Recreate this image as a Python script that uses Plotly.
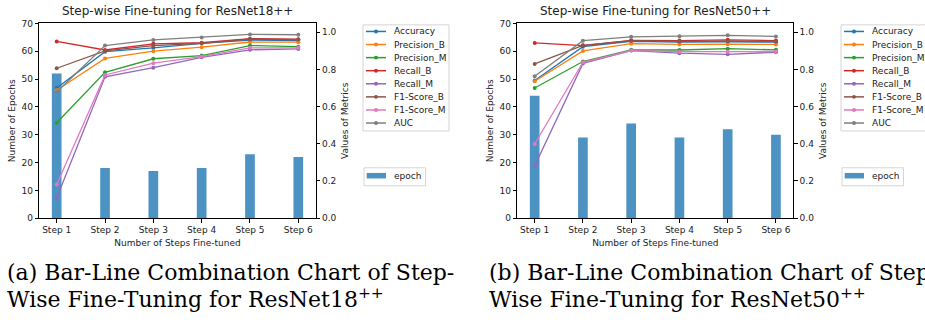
import plotly.graph_objects as go

steps = ["Step 1", "Step 2", "Step 3", "Step 4", "Step 5", "Step 6"]
metric_names = ["Accuracy", "Precision_B", "Precision_M", "Recall_B", "Recall_M",
                "F1-Score_B", "F1-Score_M", "AUC"]
colors = ["#1f77b4", "#ff7f0e", "#2ca02c", "#d62728", "#9467bd", "#8c564b", "#e377c2", "#7f7f7f"]

# ResNet18++
epochs_18 = [52, 18, 17, 18, 23, 22]
accuracy_18 = [0.700, 0.895, 0.916, 0.940, 0.957, 0.955]
precision_b_18 = [0.688, 0.859, 0.898, 0.919, 0.947, 0.946]
precision_m_18 = [0.513, 0.784, 0.857, 0.874, 0.928, 0.922]
recall_b_18 = [0.950, 0.904, 0.937, 0.943, 0.965, 0.962]
recall_m_18 = [0.109, 0.760, 0.809, 0.865, 0.905, 0.910]
f1_b_18 = [0.806, 0.899, 0.928, 0.940, 0.962, 0.960]
f1_m_18 = [0.181, 0.770, 0.833, 0.869, 0.916, 0.916]
auc_18 = [0.678, 0.928, 0.958, 0.971, 0.988, 0.986]

# ResNet50++
epochs_50 = [44, 29, 34, 29, 32, 30]
accuracy_50 = [0.740, 0.922, 0.951, 0.946, 0.948, 0.946]
precision_b_50 = [0.736, 0.899, 0.938, 0.934, 0.935, 0.934]
precision_m_50 = [0.700, 0.842, 0.905, 0.904, 0.911, 0.905]
recall_b_50 = [0.942, 0.928, 0.956, 0.955, 0.959, 0.955]
recall_m_50 = [0.281, 0.832, 0.901, 0.887, 0.881, 0.892]
f1_b_50 = [0.829, 0.929, 0.954, 0.950, 0.951, 0.950]
f1_m_50 = [0.399, 0.838, 0.901, 0.895, 0.895, 0.896]
auc_50 = [0.763, 0.954, 0.975, 0.978, 0.983, 0.977]

metrics_18 = [accuracy_18, precision_b_18, precision_m_18, recall_b_18, recall_m_18, f1_b_18, f1_m_18, auc_18]
metrics_50 = [accuracy_50, precision_b_50, precision_m_50, recall_b_50, recall_m_50, f1_b_50, f1_m_50, auc_50]

W, H = 925, 323
FONT = "DejaVu Sans"
TXT = "#222"
BAR_COLOR = "rgba(31,119,180,0.8)"
fig = go.Figure()
xpos = list(range(len(steps)))


def px_x(v):
    return v / W


def px_y(v):
    return (H - v) / H


panels = [
    dict(epochs=epochs_18, metrics=metrics_18, xa="x", ya="y", ya2="y2", dx=0),
    dict(epochs=epochs_50, metrics=metrics_50, xa="x2", ya="y3", ya2="y4", dx=478),
]
for p in panels:
    fig.add_trace(go.Bar(x=xpos, y=p["epochs"], width=0.2, name="epoch",
                         marker=dict(color=BAR_COLOR, line=dict(width=0)),
                         xaxis=p["xa"], yaxis=p["ya"], showlegend=False))
    for name, vals, c in zip(metric_names, p["metrics"], colors):
        fig.add_trace(go.Scatter(x=xpos, y=vals, name=name, mode="lines+markers",
                                 line=dict(color=c, width=1.3), marker=dict(color=c, size=4),
                                 xaxis=p["xa"], yaxis=p["ya2"], showlegend=False))

ydom = [px_y(220), px_y(19)]
tickfont = dict(family=FONT, size=9, color=TXT)
labfont = dict(family=FONT, size=9, color=TXT)
common_x = dict(range=[-0.36, 5.36], tickvals=xpos, ticktext=steps, showline=True, mirror=True,
                linecolor="black", linewidth=1, ticks="outside", ticklen=3.5, tickcolor="black",
                showgrid=False, zeroline=False, tickfont=tickfont,
                title=dict(text="Number of Steps Fine-tuned", font=labfont, standoff=5))
common_yl = dict(range=[0, 70], tickvals=[0, 10, 20, 30, 40, 50, 60, 70], showline=True, linecolor="black",
                 linewidth=1, ticks="outside", ticklen=3.5, tickcolor="black", showgrid=False, zeroline=False,
                 tickfont=tickfont, domain=ydom,
                 title=dict(text="Number of Epochs", font=labfont, standoff=4))
common_yr = dict(range=[0, 1.047], tickvals=[0, 0.2, 0.4, 0.6, 0.8, 1.0],
                 ticktext=["0.0", "0.2", "0.4", "0.6", "0.8", "1.0"], showline=True, linecolor="black",
                 linewidth=1, ticks="outside", ticklen=3.5, tickcolor="black", showgrid=False, zeroline=False,
                 tickfont=tickfont, side="right",
                 title=dict(text="Values of Metrics", font=labfont, standoff=6))

fig.update_layout(
    xaxis=dict(common_x, domain=[px_x(39.3), px_x(315.7)], anchor="y"),
    yaxis=dict(common_yl, anchor="x"),
    yaxis2=dict(common_yr, overlaying="y", anchor="x"),
    xaxis2=dict(common_x, domain=[px_x(517.3), px_x(793.3)], anchor="y3"),
    yaxis3=dict(common_yl, anchor="x2"),
    yaxis4=dict(common_yr, overlaying="y3", anchor="x2"),
)

titles = ["Step-wise Fine-tuning for ResNet18++", "Step-wise Fine-tuning for ResNet50++"]
for p, t in zip(panels, titles):
    fig.add_annotation(text=t, xref="paper", yref="paper",
                       x=px_x(177.5 + p["dx"]), y=px_y(6), showarrow=False,
                       font=dict(family=FONT, size=12, color=TXT), xanchor="center", yanchor="middle")

# legends (drawn as boxes, so the rows can be as tight as in the reference)
shapes = []
for p in panels:
    dx = p["dx"]
    shapes.append(dict(type="rect", xref="paper", yref="paper",
                       x0=px_x(363 + dx), x1=px_x(449 + dx), y0=px_y(130), y1=px_y(20.5),
                       line=dict(color="#d5d5d5", width=1), fillcolor="rgba(255,255,255,0.8)", layer="above"))
    for i, (name, c) in enumerate(zip(metric_names, colors)):
        yc = 27.3 + i * 13.5
        shapes.append(dict(type="line", xref="paper", yref="paper",
                           x0=px_x(366 + dx), x1=px_x(386 + dx), y0=px_y(yc), y1=px_y(yc),
                           line=dict(color=c, width=1.5), layer="above"))
        shapes.append(dict(type="circle", xref="paper", yref="paper",
                           x0=px_x(374 + dx), x1=px_x(378 + dx), y0=px_y(yc + 2), y1=px_y(yc - 2),
                           line=dict(width=0), fillcolor=c, layer="above"))
        fig.add_annotation(text=name, xref="paper", yref="paper", x=px_x(392 + dx), y=px_y(yc),
                           showarrow=False, xanchor="left", yanchor="middle",
                           font=dict(family=FONT, size=9, color=TXT))
    shapes.append(dict(type="rect", xref="paper", yref="paper",
                       x0=px_x(364 + dx), x1=px_x(425.5 + dx), y0=px_y(186.5), y1=px_y(168),
                       line=dict(color="#d5d5d5", width=1), fillcolor="rgba(255,255,255,0.8)", layer="above"))
    shapes.append(dict(type="rect", xref="paper", yref="paper",
                       x0=px_x(366.7 + dx), x1=px_x(386 + dx), y0=px_y(179), y1=px_y(173.3),
                       line=dict(width=0), fillcolor=BAR_COLOR, layer="above"))
    fig.add_annotation(text="epoch", xref="paper", yref="paper", x=px_x(392 + dx), y=px_y(176.5),
                       showarrow=False, xanchor="left", yanchor="middle",
                       font=dict(family=FONT, size=9, color=TXT))

SERIF = "DejaVu Serif"
captions = [
    (5, "(a) Bar-Line Combination Chart of Step-", "Wise Fine-Tuning for ResNet18<sup>++</sup>"),
    (487, "(b) Bar-Line Combination Chart of Step-", "Wise Fine-Tuning for ResNet50<sup>++</sup>"),
]
for x0, l1, l2 in captions:
    fig.add_annotation(text=l1, xref="paper", yref="paper", x=px_x(x0), y=px_y(276), showarrow=False,
                       xanchor="left", yanchor="middle", font=dict(family=SERIF, size=22, color="black"))
    fig.add_annotation(text=l2, xref="paper", yref="paper", x=px_x(x0), y=px_y(302), showarrow=False,
                       xanchor="left", yanchor="middle", font=dict(family=SERIF, size=22, color="black"))

fig.update_layout(width=W, height=H, margin=dict(l=0, r=0, t=0, b=0), plot_bgcolor="white",
                  paper_bgcolor="white", barmode="overlay", shapes=shapes, showlegend=False)

fig.write_html("out.html", post_script="document.body.style.margin='0';",
               config={"displayModeBar": False})
